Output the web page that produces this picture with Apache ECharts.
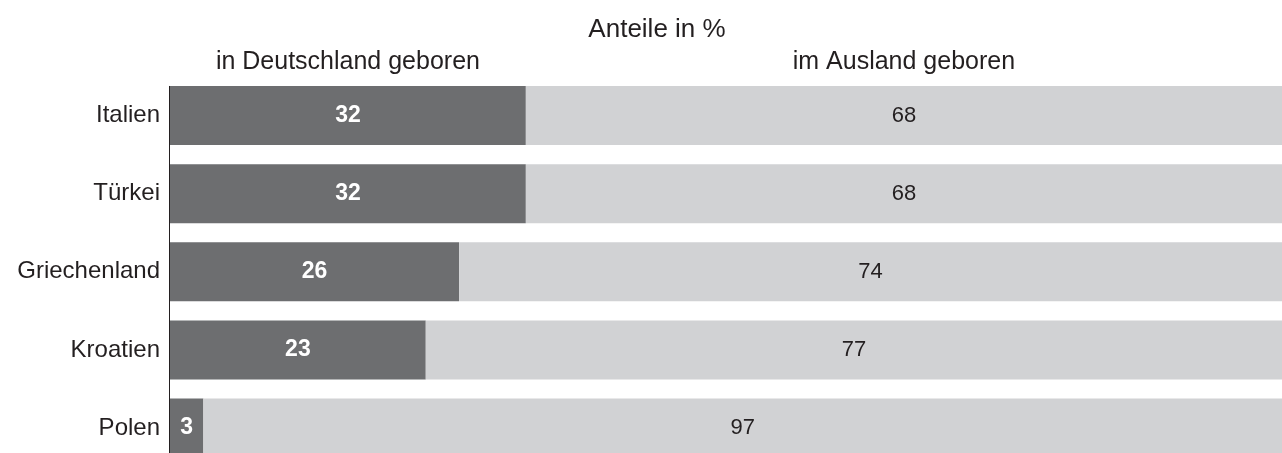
<!DOCTYPE html>
<html>
<head>
<meta charset="utf-8">
<script src="https://cdn.jsdelivr.net/npm/echarts@6/dist/echarts.min.js"></script>
<style>
html,body{margin:0;padding:0;background:#fff;}
#c{width:1282px;height:453px;}
</style>
</head>
<body>
<div id="c"></div>
<script>
const categories = ['Italien', 'Türkei', 'Griechenland', 'Kroatien', 'Polen'];
const inDeutschland = [32, 32, 26, 23, 3];
const imAusland = [68, 68, 74, 77, 97];
const seriesNames = ['in Deutschland geboren', 'im Ausland geboren'];
const titleText = 'Anteile in %';

const FONT = '"Liberation Sans", Arial, sans-serif';
const chart = echarts.init(document.getElementById('c'), null, {renderer: 'canvas'});

chart.setOption({
  animation: false,
  backgroundColor: '#ffffff',
  title: {
    text: titleText,
    left: 652, top: 12, textAlign: 'center',
    textStyle: {fontFamily: FONT, fontSize: 26, fontWeight: 'normal', color: '#231f20'}
  },
  grid: {left: 170, width: 1112, top: 76.4, height: 390.8, containLabel: false, outerBoundsMode: 'none'},
  xAxis: {
    type: 'value', min: 0, max: 100, show: false
  },
  yAxis: {
    type: 'category', data: categories, inverse: true,
    axisLine: {show: false}, axisTick: {show: false},
    axisLabel: {fontFamily: FONT, fontSize: 24, color: '#231f20', margin: 10}
  },
  series: [
    {
      name: seriesNames[0], type: 'bar', stack: 'a', data: inDeutschland, barWidth: 59,
      itemStyle: {color: '#6d6e70'},
      label: {show: true, position: 'inside', fontFamily: FONT, fontSize: 23, fontWeight: 'bold', color: '#ffffff'}
    },
    {
      name: seriesNames[1], type: 'bar', stack: 'a', data: imAusland, barWidth: 59,
      itemStyle: {color: '#d1d2d4'},
      label: {show: true, position: 'inside', fontFamily: FONT, fontSize: 22, color: '#231f20'}
    }
  ]
});

// Place subtitles and axis line using the library's own coordinate conversion
const c1 = chart.convertToPixel({gridIndex: 0}, [inDeutschland[0] / 2, 0]);
const c2 = chart.convertToPixel({gridIndex: 0}, [inDeutschland[0] + imAusland[0] / 2, 0]);
const top0 = chart.convertToPixel({gridIndex: 0}, [0, 0]);
const bottomPx = chart.getHeight();
const barHalf = 59 / 2;
chart.setOption({
  graphic: [
    {type: 'text', x: c1[0], y: 62, style: {text: seriesNames[0], fontFamily: FONT, fontSize: 25, fill: '#231f20', align: 'center', verticalAlign: 'middle'}},
    {type: 'text', x: c2[0], y: 62, style: {text: seriesNames[1], fontFamily: FONT, fontSize: 25, fill: '#231f20', align: 'center', verticalAlign: 'middle'}},
    {type: 'line', shape: {x1: top0[0] - 0.5, y1: top0[1] - barHalf, x2: top0[0] - 0.5, y2: bottomPx}, style: {stroke: '#231f20', lineWidth: 1}, z: 10}
  ]
});
</script>
</body>
</html>
